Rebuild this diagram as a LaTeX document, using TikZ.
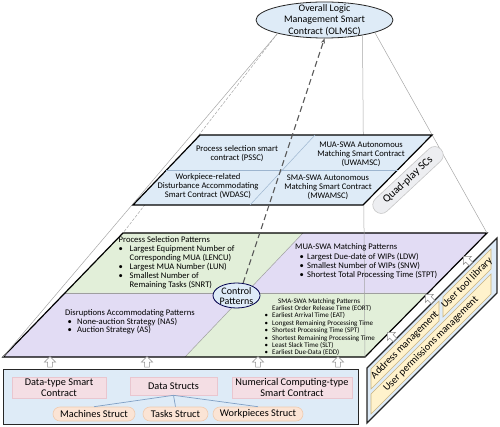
\documentclass[tikz,border=0pt]{standalone}
\usepackage{fontspec}
\setmainfont{Carlito}
\usetikzlibrary{shapes.geometric,shapes.arrows,arrows.meta}
\definecolor{lblue}{HTML}{DEEBF7}
\definecolor{lgreen}{HTML}{E2EFD9}
\definecolor{lpurp}{HTML}{E2DCF4}
\definecolor{lpink}{HTML}{F4DEE4}
\definecolor{pinkb}{HTML}{E9C6CF}
\definecolor{lpeach}{HTML}{FBE4D5}
\definecolor{peachb}{HTML}{EFCBB0}
\definecolor{lyel}{HTML}{FFF2CC}
\definecolor{yelb}{HTML}{C9B37E}
\definecolor{gline}{HTML}{A6A6A6}
\definecolor{divl}{HTML}{9DB5CF}
\definecolor{qpfill}{HTML}{EDEEF1}
\definecolor{structl}{HTML}{7F9FC4}
\begin{document}
\begin{tikzpicture}[x=1pt,y=-1pt,
  layer/.style={draw=black, line width=1.2pt, line join=miter},
  tdiv/.style={draw=divl, line width=0.5pt},
  cdiv/.style={draw=gray!75, line width=0.5pt},
  pyr/.style={draw=gline, line width=0.5pt},
  toptxt/.style={align=center, inner sep=0pt, font=\fontsize{8.6}{9}\selectfont},
  ctxt/.style={inner sep=0pt, anchor=base west, font=\fontsize{8.6}{8.8}\selectfont},
  stxt/.style={inner sep=0pt, anchor=base west, font=\fontsize{7}{7.4}\selectfont},
  pinkbox/.style={draw=pinkb, fill=lpink, line width=0.6pt, inner sep=0pt, align=center, font=\fontsize{10.3}{10.5}\selectfont},
  pill/.style={draw=peachb, fill=lpeach, line width=0.6pt, rounded corners=7pt, minimum height=14pt, inner sep=0pt, font=\fontsize{10.3}{10.5}\selectfont},
  uparr/.style={single arrow, draw=gray!90, fill=white, line width=0.5pt, minimum height=10.5pt, single arrow head extend=3.2pt, inner sep=2.2pt},
  ybox/.style={draw=yelb, fill=lyel, line width=0.6pt},
  ytxt/.style={inner sep=0pt, font=\fontsize{10.3}{10.5}\selectfont},
  dasharr/.style={draw=black!65, line width=1.1pt, dash pattern=on 6pt off 3.5pt, -{Stealth[length=5pt,width=4pt]}},
  structline/.style={draw=structl, line width=0.7pt},
]
\useasboundingbox (0,0) rectangle (500,427);

% ---------- corner coordinates ----------
\coordinate (tTL) at (200,135);
\coordinate (tTR) at (432,135);
\coordinate (tBR) at (363,205);
\coordinate (tBL) at (133,205);
\coordinate (cTL) at (123,233);
\coordinate (cTR) at (487,233);
\coordinate (cBR) at (365,357);
\coordinate (cBL) at (3,357);

% ---------- OLMSC ----------
\node[ellipse, draw=black!85, fill=lblue, line width=0.8pt, minimum width=137pt, minimum height=36pt, inner sep=0pt] (olmsc) at (324.5,20) {};
\node[align=center, inner sep=0pt, font=\fontsize{10}{11.5}\selectfont] (olmsct) at (324.5,20) {Overall Logic\\Management Smart\\Contract (OLMSC)};

% ---------- control layer ----------
\fill[lgreen] (cTL) -- (303,233) -- (246,293) -- (64,293) -- cycle;
\fill[lpurp] (303,233) -- (cTR) -- (428,293) -- (246,293) -- cycle;
\fill[lpurp] (64,293) -- (246,293) -- (185,357) -- (cBL) -- cycle;
\fill[lgreen] (246,293) -- (428,293) -- (cBR) -- (185,357) -- cycle;
\draw[cdiv] (64,293) -- (428,293);
\draw[cdiv] (303,233) -- (185,357);
\draw[layer] (cTL) -- (cTR) -- (cBR) -- (cBL) -- cycle;

% ---------- pyramid lines ----------
\draw[pyr] (olmsc.196) -- (cBL);
\draw[pyr, dash pattern=on 3pt off 1.5pt] (olmsc.196) -- (cTL);
\draw[pyr] (olmsc.-14) -- (cTR);
\draw[pyr] (olmsc.-22) -- (cBR);

% ---------- top layer ----------
\filldraw[layer, fill=lblue] (tTL) -- (tTR) -- (tBR) -- (tBL) -- cycle;
\draw[tdiv] (166,170) -- (397.5,170);
\draw[tdiv] (315,135) -- (250,205);
\node[toptxt] (pssc) at (237,154) {Process selection smart\\contract (PSSC)};
\node[toptxt] (uwamsc) at (361,154) {MUA-SWA Autonomous\\Matching Smart Contract\\(UWAMSC)};
\node[toptxt] (wdasc) at (208,186) {Workpiece-related\\Disturbance Accommodating\\Smart Contract (WDASC)};
\node[toptxt] (mwamsc) at (328,187) {SMA-SWA Autonomous\\Matching Smart Contract\\(MWAMSC)};
% Quad-play label (rounded band at about 43 degrees)
\filldraw[draw=gray!45, fill=qpfill, line width=0.6pt, rounded corners=8.3pt] (369.3,204.5) -- (435.1,143.1) -- (446.7,155.5) -- (380.9,216.9) -- cycle;
\node[inner sep=0pt, font=\fontsize{11}{11}\selectfont] (qp) at (408,180) {\rotatebox{43}{Quad-play SCs}};

% ---------- control layer texts ----------
\node[ctxt] (psp) at (118.5,243) {\begin{tabular}[t]{@{}p{11pt}@{}l@{}}
\multicolumn{2}{@{}l@{}}{Process Selection Patterns}\\
\textbullet & Largest Equipment Number of\\
 & Corresponding MUA (LENCU)\\
\textbullet & Largest MUA Number (LUN)\\
\textbullet & Smallest Number of\\
 & Remaining Tasks (SNRT)
\end{tabular}};
\node[ctxt] (dap) at (65,315) {Disruptions Accommodating Patterns};
\node[ctxt] (dapl) at (67.5,324) {\begin{tabular}[t]{@{}p{9.5pt}@{}l@{}}
\textbullet & None-auction Strategy (NAS)\\
\textbullet & Auction Strategy (AS)
\end{tabular}};
\node[ctxt] (mmp) at (295,250) {MUA-SWA Matching Patterns};
\node[ctxt] (mmpl) at (299.5,259.5) {\begin{tabular}[t]{@{}p{7.5pt}@{}l@{}}
\textbullet & Largest Due-date of WIPs (LDW)\\
\textbullet & Smallest Number of WIPs (SNW)\\
\textbullet & Shortest Total Processing Time (STPT)
\end{tabular}};
\node[stxt] (smp) at (278,303.5) {SMA-SWA Matching Patterns};
\node[stxt] (smpl) at (264.5,310.5) {\begin{tabular}[t]{@{}p{7.5pt}@{}l@{}}
 & Earliest Order Release Time (EORT)\\
\textbullet & Earliest Arrival Time (EAT)\\
\textbullet & Longest Remaining Processing Time\\
\textbullet & Shortest Processing Time (SPT)\\
\textbullet & Shortest Remaining Processing Time\\
\textbullet & Least Slack Time (SLT)\\
\textbullet & Earliest Due-Data (EDD)
\end{tabular}};

\node[ellipse, draw=black!70!blue, fill=lblue, line width=0.8pt, minimum width=47pt, minimum height=25pt, inner sep=0pt] (cp) at (236.5,295.5) {};
\node[align=center, inner sep=0pt, font=\fontsize{10}{10}\selectfont] (cpt) at (236.5,296) {Control\\Patterns};

% ---------- data layer ----------
\node[draw=black!85, line width=1.2pt, fill=lblue, minimum width=355pt, minimum height=55pt, inner sep=0pt, anchor=north west] (dl) at (3,369) {};
\node[pinkbox, minimum width=94pt, minimum height=21pt] (dtsc) at (59,387.5) {Data-type Smart\\Contract};
\node[pinkbox, minimum width=87pt, minimum height=18pt] (ds) at (173.5,386) {Data Structs};
\node[pinkbox, minimum width=120pt, minimum height=21pt] (ncsc) at (292,387.5) {Numerical Computing-type\\Smart Contract};
\node[pill, minimum width=82pt] (ms) at (94,414) {Machines Struct};
\node[pill, minimum width=65pt] (ts) at (175.5,414) {Tasks Struct};
\node[pill, minimum width=90pt] (ws) at (258,414) {Workpieces Struct};
\draw[structline] (ds.south) -- (ms.north);
\draw[structline] (ds.south) -- (ts.north);
\draw[structline] (ds.south) -- (ws.north);

% ---------- up arrows ----------
\node[uparr, shape border rotate=90] (ua1) at (50,363) {};
\node[uparr, shape border rotate=90] (ua2) at (147,363) {};
\node[uparr, shape border rotate=90] (ua3) at (258,363) {};
\node[uparr, shape border rotate=90] (ua4) at (338,363) {};

% ---------- side panel ----------
\filldraw[draw=black!85, line width=1.2pt, fill=lblue, line join=miter] (367,368) -- (497,238) -- (497,293) -- (367,423) -- cycle;
\filldraw[ybox] (371,389) -- (439,321) -- (439,301) -- (371,369) -- cycle;
\filldraw[ybox] (443,317) -- (491,269) -- (491,249) -- (443,297) -- cycle;
\filldraw[ybox] (371,414) -- (491,294) -- (491,274) -- (371,394) -- cycle;
\node[ytxt] (am) at (405,345) {\rotatebox{45}{Address management}};
\node[ytxt] (utl) at (467,283) {\rotatebox{45}{User tool library}};
\node[ytxt] (upm) at (431,344) {\rotatebox{45}{User permissions management}};
\node[uparr, shape border rotate=90, rotate=45] (pa1) at (468,261) {};
\node[uparr, shape border rotate=90, rotate=45] (pa2) at (430,299) {};
\node[uparr, shape border rotate=90, rotate=45] (pa3) at (392,337) {};

% ---------- dashed arrow ----------
\draw[dasharr] (cp.62) -- (olmsc.south);
\end{tikzpicture}
\end{document}
